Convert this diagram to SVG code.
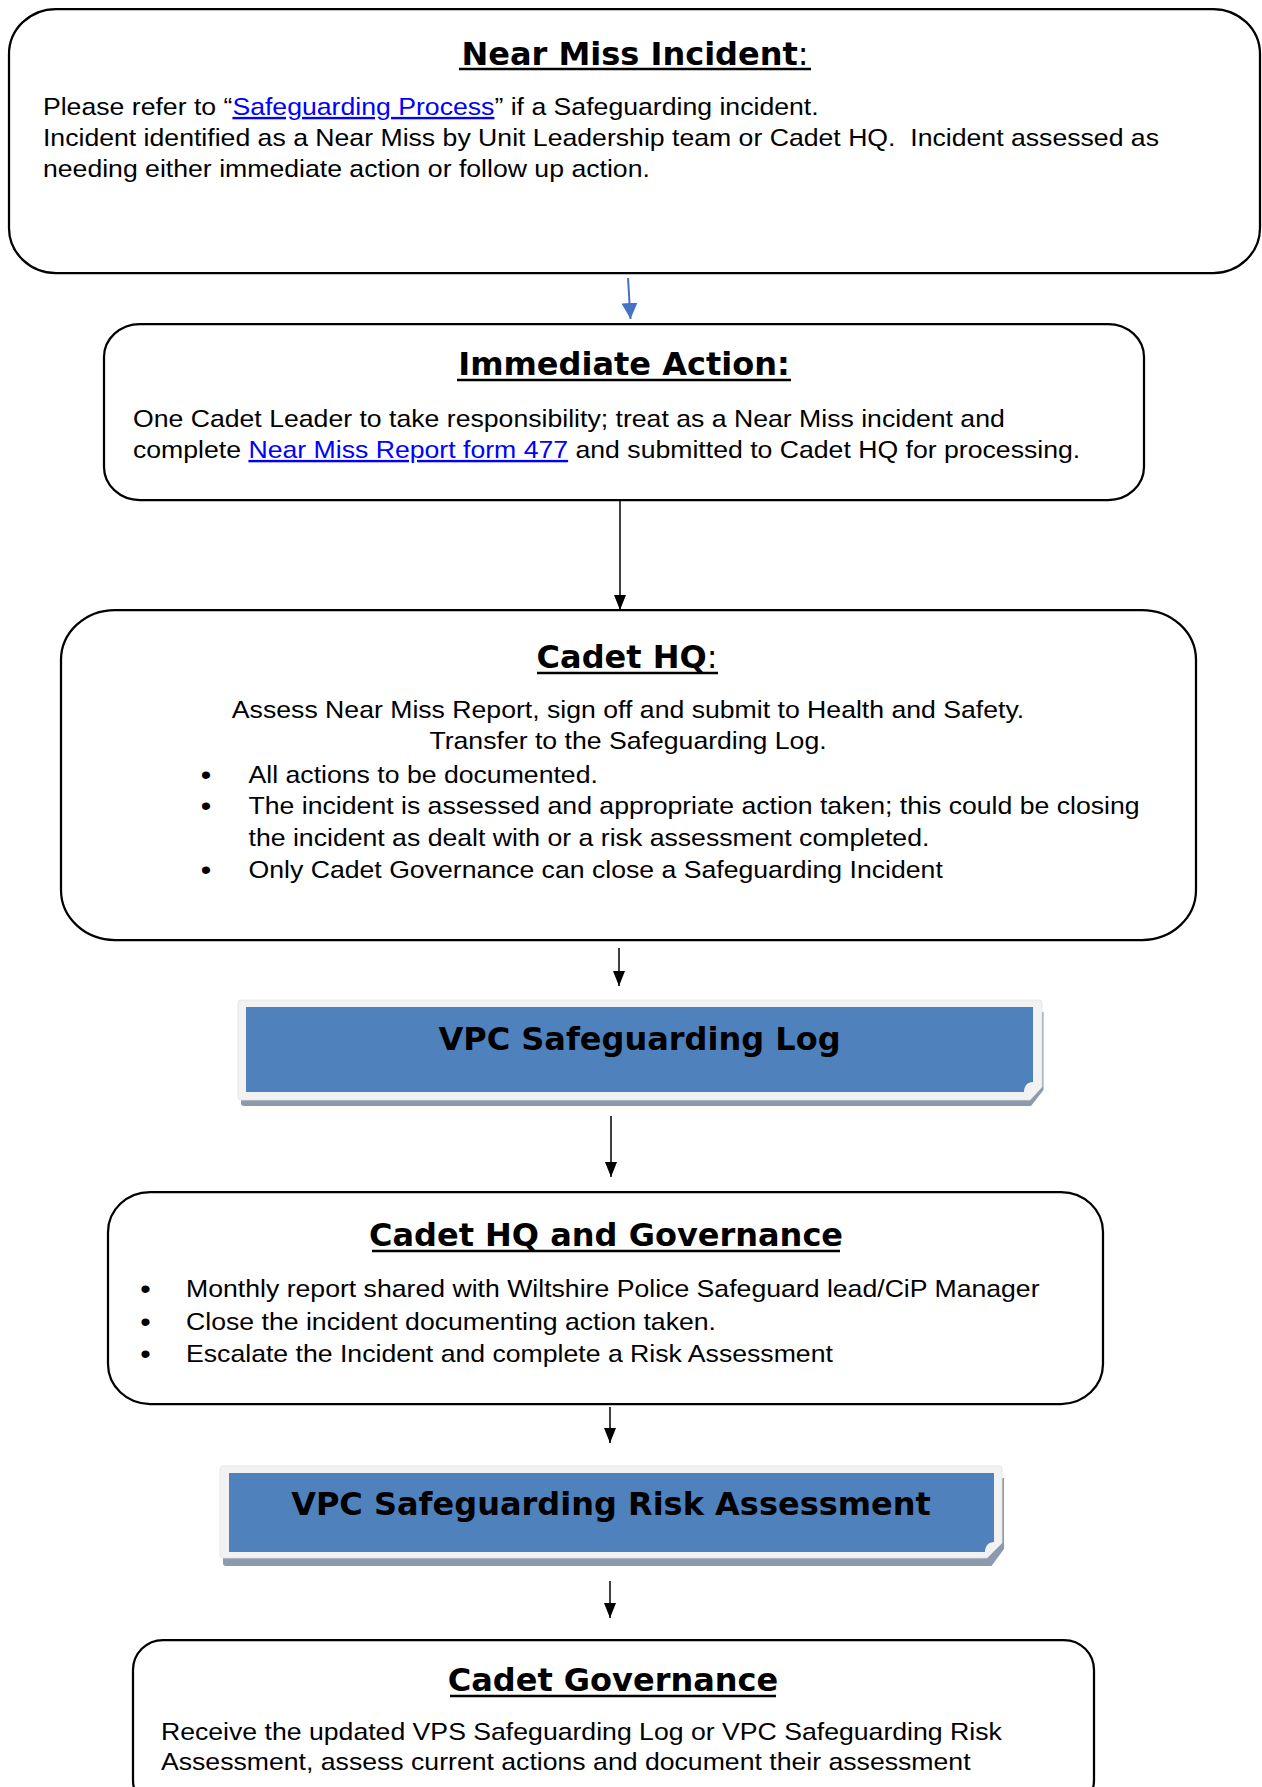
<svg xmlns="http://www.w3.org/2000/svg" width="1262" height="1787" viewBox="0 0 1262 1787">
  <style>
    .box { fill: #ffffff; stroke: #000000; stroke-width: 2.25; }
    .title { font-family: "DejaVu Sans", Verdana, sans-serif; font-weight: bold; font-size: 32px; fill: #000000; }
    .plain { font-weight: normal; }
    .body { font-family: "Liberation Sans", Arial, sans-serif; font-size: 24px; fill: #000000; }
    .bullet { font-family: "Liberation Sans", Arial, sans-serif; font-size: 27px; fill: #000000; }
    .link { fill: #0000ff; text-decoration: underline; }
    .ul { stroke: #000000; stroke-width: 2.6; }
    .conn { stroke: #000000; stroke-width: 1.5; fill: none; }
    .conn-blue { stroke: #4472c4; stroke-width: 2; fill: none; }
    .frame { fill: #f2f2f2; stroke: #e2e2e2; stroke-width: 0.8; }
    .shadow { fill: #8c9aae; }
    .panel { fill: #4f81bd; }
  </style>
  <defs>
    <marker id="head" markerUnits="userSpaceOnUse" markerWidth="15" markerHeight="12" refX="15" refY="6" orient="auto">
      <path d="M0,0 L15,6 L0,12 Z" fill="#000000"/>
    </marker>
    <marker id="head-blue" markerUnits="userSpaceOnUse" markerWidth="16" markerHeight="16" refX="16" refY="8" orient="auto">
      <path d="M0,0 L16,8 L0,16 Z" fill="#4472c4"/>
    </marker>
  </defs>

  <rect width="1262" height="1787" fill="#ffffff"/>

  <!-- connectors -->
  <g id="connectors">
    <line class="conn-blue" x1="628" y1="278" x2="630.5" y2="319" marker-end="url(#head-blue)"/>
    <line class="conn" x1="620" y1="497" x2="620" y2="610" marker-end="url(#head)"/>
    <line class="conn" x1="619" y1="948" x2="619" y2="986" marker-end="url(#head)"/>
    <line class="conn" x1="611" y1="1116" x2="611" y2="1177" marker-end="url(#head)"/>
    <line class="conn" x1="610" y1="1407" x2="610" y2="1443" marker-end="url(#head)"/>
    <line class="conn" x1="610" y1="1581" x2="610" y2="1618" marker-end="url(#head)"/>
  </g>

  <!-- Near Miss Incident -->
  <g id="near-miss-incident">
    <rect class="box" x="9" y="9" width="1251" height="264" rx="47" ry="45"/>
    <text class="title" x="635" y="65" text-anchor="middle">Near Miss Incident<tspan class="plain">:</tspan></text>
    <line class="ul" x1="459" y1="69" x2="811" y2="69"/>
    <g transform="scale(1.11 1)">
      <text class="body" x="38.7" y="115">Please refer to “<tspan class="link">Safeguarding Process</tspan>” if a Safeguarding incident.</text>
      <text class="body" x="38.7" y="146">Incident identified as a Near Miss by Unit Leadership team or Cadet HQ.&#160; Incident assessed as</text>
      <text class="body" x="38.7" y="177">needing either immediate action or follow up action.</text>
    </g>
  </g>

  <!-- Immediate Action -->
  <g id="immediate-action">
    <rect class="box" x="104" y="324" width="1040" height="176" rx="36" ry="33"/>
    <text class="title" x="624" y="375" text-anchor="middle">Immediate Action:</text>
    <line class="ul" x1="457" y1="380" x2="791" y2="380"/>
    <g transform="scale(1.11 1)">
      <text class="body" x="119.8" y="427">One Cadet Leader to take responsibility; treat as a Near Miss incident and</text>
      <text class="body" x="119.8" y="458">complete <tspan class="link">Near Miss Report form 477</tspan> and submitted to Cadet HQ for processing.</text>
    </g>
  </g>

  <!-- Cadet HQ -->
  <g id="cadet-hq">
    <rect class="box" x="61" y="610" width="1135" height="330" rx="54" ry="50"/>
    <text class="title" x="627" y="668" text-anchor="middle">Cadet HQ<tspan class="plain">:</tspan></text>
    <line class="ul" x1="537" y1="673" x2="718" y2="673"/>
    <g transform="scale(1.11 1)">
      <text class="body" x="565.8" y="718" text-anchor="middle">Assess Near Miss Report, sign off and submit to Health and Safety.</text>
      <text class="body" x="565.8" y="749" text-anchor="middle">Transfer to the Safeguarding Log.</text>
      <text class="bullet" x="180.9" y="784">•</text>
      <text class="body" x="223.9" y="783">All actions to be documented.</text>
      <text class="bullet" x="180.9" y="815">•</text>
      <text class="body" x="223.9" y="814">The incident is assessed and appropriate action taken; this could be closing</text>
      <text class="body" x="223.9" y="846">the incident as dealt with or a risk assessment completed.</text>
      <text class="bullet" x="180.9" y="879">•</text>
      <text class="body" x="223.9" y="878">Only Cadet Governance can close a Safeguarding Incident</text>
    </g>
  </g>

  <!-- VPC Safeguarding Log -->
  <g id="vpc-safeguarding-log">
    <path class="shadow" d="M241,1012 H1043.5 V1090 L1031,1106 H244 Q241,1106 241,1103 Z"/>
    <path class="frame" d="M241,1000 H1039 Q1042,1000 1042,1003 V1087 L1030,1100 H241 Q238,1100 238,1097 V1003 Q238,1000 241,1000 Z"/>
    <path class="panel" d="M246,1007 H1033 V1082 C1027.5,1082 1024,1086 1024,1092 H246 Z"/>
    <text class="title" x="639.5" y="1050" text-anchor="middle">VPC Safeguarding Log</text>
  </g>

  <!-- Cadet HQ and Governance -->
  <g id="cadet-hq-governance">
    <rect class="box" x="108" y="1192" width="995" height="212" rx="42" ry="40"/>
    <text class="title" x="606" y="1246" text-anchor="middle">Cadet HQ and Governance</text>
    <line class="ul" x1="372" y1="1251" x2="840" y2="1251"/>
    <g transform="scale(1.11 1)">
      <text class="bullet" x="126.3" y="1298">•</text>
      <text class="body" x="167.6" y="1297">Monthly report shared with Wiltshire Police Safeguard lead/CiP Manager</text>
      <text class="bullet" x="126.3" y="1331">•</text>
      <text class="body" x="167.6" y="1330">Close the incident documenting action taken.</text>
      <text class="bullet" x="126.3" y="1363">•</text>
      <text class="body" x="167.6" y="1362">Escalate the Incident and complete a Risk Assessment</text>
    </g>
  </g>

  <!-- VPC Safeguarding Risk Assessment -->
  <g id="vpc-safeguarding-risk-assessment">
    <path class="shadow" d="M223,1478 H1004 V1549 L991.5,1566 H226 Q223,1566 223,1563 Z"/>
    <path class="frame" d="M223,1466 H999 Q1002,1466 1002,1469 V1543 L987,1558 H223 Q220,1558 220,1555 V1469 Q220,1466 223,1466 Z"/>
    <path class="panel" d="M229,1473 H994 V1542 C988.5,1542 985,1546 985,1552 H229 Z"/>
    <text class="title" x="611" y="1515" text-anchor="middle">VPC Safeguarding Risk Assessment</text>
  </g>

  <!-- Cadet Governance -->
  <g id="cadet-governance">
    <rect class="box" x="133" y="1640" width="961" height="170" rx="30" ry="30"/>
    <text class="title" x="613" y="1691" text-anchor="middle">Cadet Governance</text>
    <line class="ul" x1="450" y1="1696" x2="776" y2="1696"/>
    <g transform="scale(1.11 1)">
      <text class="body" x="145" y="1740">Receive the updated VPS Safeguarding Log or VPC Safeguarding Risk</text>
      <text class="body" x="145" y="1770">Assessment, assess current actions and document their assessment</text>
    </g>
  </g>
</svg>
